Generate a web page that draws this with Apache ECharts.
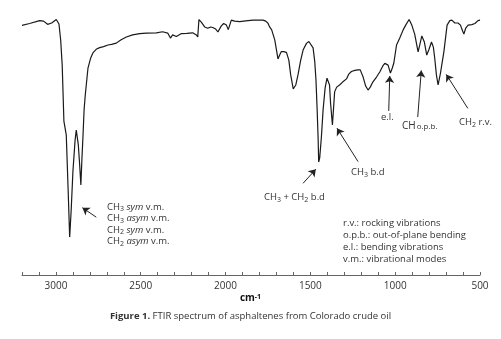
<!DOCTYPE html>
<html>
<head>
<meta charset="utf-8">
<script src="https://cdn.jsdelivr.net/npm/echarts@6/dist/echarts.min.js"></script>
<style>
  html, body { margin: 0; padding: 0; background: #fff; }
  #chart { width: 501px; height: 339px; }
</style>
</head>
<body>
<div id="chart"></div>
<script>
// spectrum: wavenumber (cm-1) and transmittance (%)
const wavenumbers = [
  3200, 3155, 3096, 3073, 3049, 3025, 2998, 2982, 2972, 2963,
  2953, 2939, 2928, 2919, 2910, 2900, 2887, 2880, 2868, 2860,
  2853, 2847, 2841, 2834, 2827, 2811, 2795, 2782, 2760, 2742,
  2719, 2693, 2672, 2644, 2618, 2585, 2548, 2506, 2467, 2408,
  2371, 2341, 2325, 2312, 2290, 2260, 2229, 2194, 2172, 2164,
  2157, 2142, 2123, 2105, 2088, 2076, 2058, 2045, 2025, 2011,
  1995, 1984, 1978, 1966, 1946, 1917, 1881, 1838, 1810, 1779,
  1763, 1750, 1740, 1728, 1710, 1698, 1691, 1681, 1671, 1657,
  1641, 1627, 1616, 1601, 1586, 1573, 1557, 1543, 1523, 1509,
  1498, 1484, 1474, 1467, 1460, 1454, 1451, 1445, 1435, 1425,
  1413, 1402, 1393, 1387, 1381, 1370, 1364, 1357, 1345, 1328,
  1310, 1287, 1274, 1258, 1238, 1219, 1206, 1189, 1174, 1160,
  1147, 1132, 1110, 1091, 1073, 1061, 1042, 1028, 1017, 1008,
  992, 973, 953, 938, 918, 902, 885, 865, 855, 843,
  828, 814, 802, 786, 775, 767, 757, 747, 733, 713,
  694, 678, 666, 648, 630, 615, 607, 595, 584, 570,
  548, 530, 512, 500
];
const transmittance = [
  94.2, 94.9, 96.0, 95.8, 94.6, 95.1, 96.4, 94.7, 88.7, 79.2,
  58.1, 52.8, 32.1, 14.3, 24.5, 38.9, 50.9, 54.7, 49.1, 41.5,
  34.0, 43.4, 51.7, 62.3, 67.9, 78.1, 81.9, 83.8, 85.3, 85.8,
  86.2, 86.8, 87.0, 87.5, 88.7, 89.8, 90.6, 91.1, 91.3, 91.4,
  91.8, 91.3, 89.4, 90.6, 90.0, 91.1, 91.2, 91.4, 90.6, 89.8,
  96.4, 95.3, 93.6, 93.1, 93.6, 93.4, 92.8, 91.7, 94.0, 94.9,
  94.3, 92.6, 93.2, 96.2, 95.8, 95.6, 95.9, 96.2, 96.2, 96.2,
  95.8, 95.0, 93.6, 92.5, 88.7, 84.2, 81.5, 83.0, 84.3, 84.3,
  84.0, 81.1, 75.5, 70.2, 71.7, 75.5, 81.1, 84.9, 87.4, 88.1,
  87.7, 85.7, 80.4, 73.6, 62.3, 50.9, 42.6, 44.2, 52.1, 62.3,
  70.6, 74.3, 74.7, 71.7, 64.9, 56.6, 62.3, 69.1, 70.9, 71.7,
  72.8, 74.0, 75.8, 76.8, 77.2, 77.4, 77.4, 74.7, 71.3, 69.8,
  70.9, 72.8, 74.7, 76.6, 78.9, 79.9, 79.2, 76.2, 78.1, 80.0,
  86.8, 89.4, 92.5, 94.3, 96.4, 94.3, 90.9, 84.2, 86.8, 90.2,
  87.9, 83.0, 84.9, 87.9, 86.0, 81.9, 75.5, 71.7, 76.2, 84.2,
  94.3, 96.0, 96.2, 95.1, 95.1, 94.3, 92.8, 90.9, 93.2, 94.3,
  94.5, 94.9, 96.0, 96.2
];
const tickLabels = [3000, 2500, 2000, 1500, 1000, 500];

// annotation arrows in data units: [from wn, from T, to wn, to T]
const arrows = [
  [2762, 21.8, 2844, 25.4],
  [1543, 34.6, 1468, 39.9],
  [1219, 42.8, 1343, 55.4],
  [1038, 61.9, 1032, 75.1],
  [867, 59.6, 846, 77.2],
  [572, 62.9, 699, 75.7]
];

const font = "'Open Sans', sans-serif";
const ink = '#333';
const sub = { fontSize: 7, lineHeight: 7, fontFamily: font, fill: ink, verticalAlign: 'bottom' };

function note(left, top, text, lineHeight, extraRich) {
  return {
    type: 'text', left: left, top: top,
    style: {
      text: text, fill: ink, font: '9.5px ' + font, lineHeight: lineHeight || 12,
      rich: Object.assign({
        s: sub,
        i: { fontSize: 9.5, fontStyle: 'italic', fontFamily: font, fill: ink }
      }, extraRich || {})
    }
  };
}

const myChart = echarts.init(document.getElementById('chart'), null, { renderer: 'canvas' });
const option = {
  animation: false,
  backgroundColor: '#fff',
  grid: { left: 22, right: 21, top: 10, bottom: 64 },
  xAxis: {
    type: 'value',
    inverse: true,
    min: 500,
    max: 3200,
    interval: 100,
    axisLine: { lineStyle: { color: '#666', width: 1 } },
    axisTick: { inside: true, length: 3, lineStyle: { color: '#666' } },
    splitLine: { show: false },
    axisLabel: {
      margin: 6,
      color: '#333',
      fontSize: 10,
      fontFamily: font,
      formatter: v => tickLabels.includes(v) ? String(v) : ''
    }
  },
  yAxis: { type: 'value', min: 0, max: 100, show: false },
  series: [{
    type: 'line',
    data: wavenumbers.map((w, i) => [w, transmittance[i]]),
    showSymbol: false,
    lineStyle: { color: '#1a1a1a', width: 1.2 },
    markLine: {
      silent: true,
      symbol: ['none', 'arrow'],
      symbolSize: 7,
      label: { show: false },
      lineStyle: { type: 'solid', color: '#222', width: 1 },
      data: arrows.map(a => [{ coord: [a[0], a[1]] }, { coord: [a[2], a[3]] }])
    }
  }],
  graphic: [
    note(107, 201, 'CH{s|3} {i|sym} v.m.\nCH{s|3} {i|asym} v.m.\nCH{s|2} {i|sym} v.m.\nCH{s|2} {i|asym} v.m.', 11.6),
    note(264, 191, 'CH{s|3} + CH{s|2} b.d'),
    note(351, 166, 'CH{s|3} b.d'),
    note(381, 111, 'e.l.'),
    note(402, 120, '{b|CH}{m|o.p.b.}', 12, {
      b: { fontSize: 10, fontFamily: font, fill: ink },
      m: { fontSize: 8, fontFamily: font, fill: ink, padding: [1, 0, 0, 1] }
    }),
    note(459, 116, 'CH{s|2} r.v.'),
    note(343, 217, 'r.v.: rocking vibrations\no.p.b.: out-of-plane bending\ne.l.: bending vibrations\nv.m.: vibrational modes', 12),
    {
      type: 'text', left: 'center', top: 293,
      style: {
        text: '{c|cm}{e|-1}', fill: '#111',
        rich: {
          c: { fontSize: 10, fontWeight: 'bold', fontFamily: font, fill: '#111' },
          e: { fontSize: 7, fontWeight: 'bold', fontFamily: font, fill: '#111', verticalAlign: 'top' }
        }
      }
    },
    {
      type: 'text', left: 'center', top: 311,
      style: {
        text: '{b|Figure 1.} FTIR spectrum of asphaltenes from Colorado crude oil',
        fill: '#333', font: '9.5px ' + font,
        rich: { b: { fontSize: 9.5, fontWeight: 'bold', fontFamily: font, fill: '#333' } }
      }
    }
  ]
};
myChart.setOption(option);
</script>
</body>
</html>
